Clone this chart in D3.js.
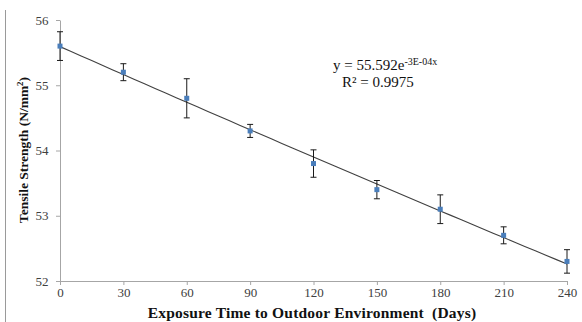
<!DOCTYPE html>
<html>
<head>
<meta charset="utf-8">
<script src="https://cdn.jsdelivr.net/npm/d3@7/dist/d3.min.js"></script>
<style>
  html, body { margin: 0; padding: 0; background: #fff; }
  svg { display: block; }
  text { font-family: "Liberation Serif", "Times New Roman", serif; }
</style>
</head>
<body>
<svg id="chart" width="582" height="322"></svg>
<script>
// Exposure time (days) and mean tensile strength with standard deviation
const days = [0, 30, 60, 90, 120, 150, 180, 210, 240];
const strength = [55.6, 55.2, 54.8, 54.3, 53.8, 53.4, 53.1, 52.7, 52.3];
const errors = [0.22, 0.13, 0.30, 0.10, 0.21, 0.14, 0.22, 0.13, 0.18];
const xTicks = [0, 30, 60, 90, 120, 150, 180, 210, 240];
const yTicks = [52, 53, 54, 55, 56];

const svg = d3.select("#chart");
const margin = { left: 60, right: 15, top: 20, bottom: 41 };
const W = 582, H = 322;

const x = d3.scaleLinear().domain([0, 240]).range([margin.left, W - margin.right]);
const y = d3.scaleLinear().domain([52, 56]).range([H - margin.bottom, margin.top]);

// frame line on the left edge
svg.append("line")
  .attr("x1", 5.5).attr("x2", 5.5).attr("y1", 10).attr("y2", H)
  .attr("stroke", "#9a9a9a").attr("stroke-width", 1);

// axes
const xAxis = d3.axisBottom(x).tickValues(xTicks).tickSize(4).tickSizeOuter(0).tickFormat(d3.format("d"));
const yAxis = d3.axisLeft(y).tickValues(yTicks).tickSize(4).tickSizeOuter(0).tickFormat(d3.format("d"));

const gx = svg.append("g").attr("transform", `translate(0,${y(52)})`).call(xAxis);
const gy = svg.append("g").attr("transform", `translate(${x(0)},0)`).call(yAxis);

[gx, gy].forEach(g => {
  g.select(".domain").attr("stroke", "#a6a6a6");
  g.selectAll(".tick line").attr("stroke", "#a6a6a6");
  g.selectAll(".tick text")
    .attr("font-family", "Liberation Serif, Times New Roman, serif")
    .attr("font-size", 13)
    .attr("fill", "#404040");
});
gx.selectAll(".tick text").attr("y", 7).attr("dy", "0.71em");
gy.selectAll(".tick text").attr("dx", "-0.35em");

// exponential trendline fitted in log space
const lx = d3.mean(days), ly = d3.mean(strength, v => Math.log(v));
let sxy = 0, sxx = 0;
days.forEach((d, i) => { sxy += (d - lx) * (Math.log(strength[i]) - ly); sxx += (d - lx) * (d - lx); });
const b = sxy / sxx;
const a = Math.exp(ly - b * lx);
const trendX = d3.range(0, 241, 5);
svg.append("path")
  .datum(trendX)
  .attr("fill", "none")
  .attr("stroke", "#404040")
  .attr("stroke-width", 1.1)
  .attr("d", d3.line().x(d => x(d)).y(d => y(a * Math.exp(b * d))));

// error bars
const eb = svg.append("g").attr("stroke", "#1a1a1a").attr("stroke-width", 1);
days.forEach((d, i) => {
  const cx = x(d), t = y(strength[i] + errors[i]), bt = y(strength[i] - errors[i]);
  eb.append("line").attr("x1", cx).attr("x2", cx).attr("y1", t).attr("y2", bt);
  eb.append("line").attr("x1", cx - 3).attr("x2", cx + 3).attr("y1", t).attr("y2", t);
  eb.append("line").attr("x1", cx - 3).attr("x2", cx + 3).attr("y1", bt).attr("y2", bt);
});

// data markers
svg.append("g").selectAll("rect")
  .data(days)
  .join("rect")
  .attr("x", d => x(d) - 2.5)
  .attr("y", (d, i) => y(strength[i]) - 2.5)
  .attr("width", 5).attr("height", 5)
  .attr("fill", "#4a7ebb");

// trendline equation
const eq = svg.append("text").attr("x", 333).attr("y", 70)
  .attr("font-size", 15).attr("fill", "#111");
eq.append("tspan").text("y = 55.592e");
eq.append("tspan").attr("dy", -5).attr("font-size", 10).text("-3E-04x");
svg.append("text").attr("x", 342).attr("y", 87)
  .attr("font-size", 15).attr("fill", "#111")
  .text("R² = 0.9975");

// axis titles
svg.append("text")
  .attr("x", 312).attr("y", 318)
  .attr("text-anchor", "middle")
  .attr("font-size", 15.5).attr("font-weight", "bold").attr("fill", "#111")
  .attr("letter-spacing", 0.2)
  .attr("xml:space", "preserve")
  .text("Exposure Time to Outdoor Environment  (Days)");

const yt = svg.append("text")
  .attr("transform", "translate(28,150) rotate(-90)")
  .attr("text-anchor", "middle")
  .attr("font-size", 13.5).attr("font-weight", "bold").attr("fill", "#111");
yt.append("tspan").text("Tensile Strength (N/mm");
yt.append("tspan").attr("dy", -5).attr("font-size", 9).text("2");
yt.append("tspan").attr("dy", 5).text(")");
</script>
</body>
</html>
